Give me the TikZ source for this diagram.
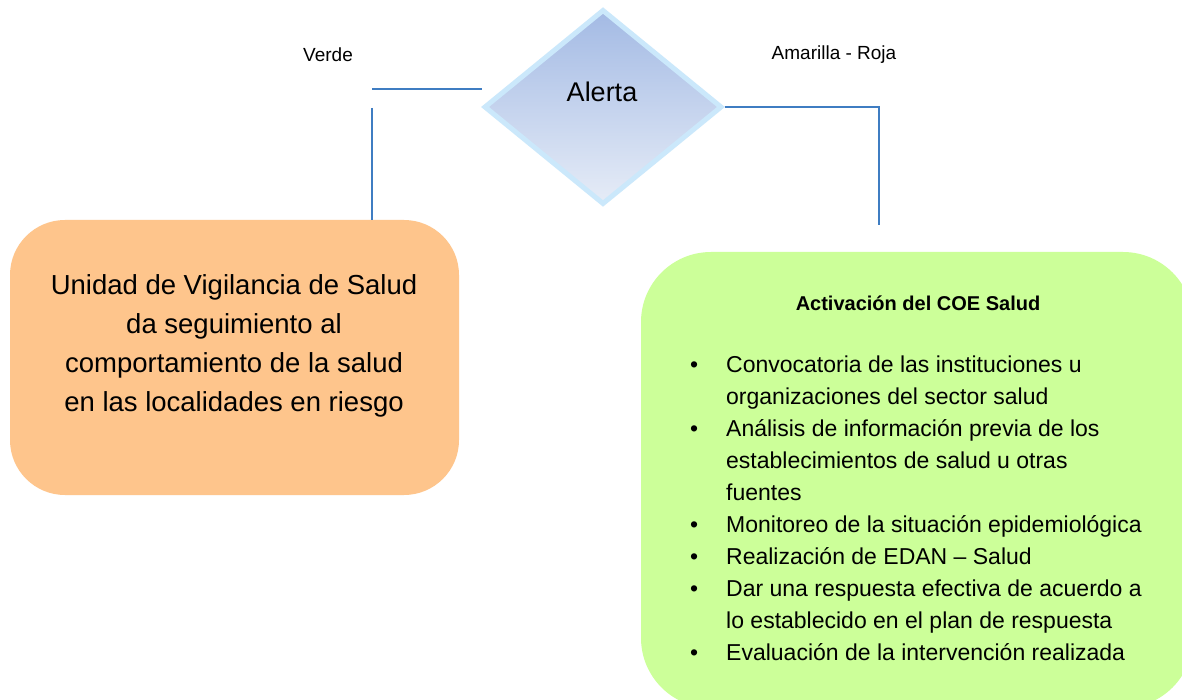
\documentclass[tikz,border=0pt]{standalone}
\usepackage{fontspec}
\setmainfont{Liberation Sans}
\usetikzlibrary{shapes.geometric}
\definecolor{linkblue}{HTML}{3F7DC2}
\definecolor{rimblue}{HTML}{CBE8FB}
\definecolor{topblue}{HTML}{A3BAE4}
\definecolor{botblue}{HTML}{E6ECF7}
\definecolor{boxorange}{HTML}{FEC58C}
\definecolor{boxgreen}{HTML}{CCFF99}
\tikzset{
  link/.style={draw=linkblue, line width=1.6pt},
  decision/.style={shape=diamond, draw=rimblue, line width=5pt, top color=topblue, bottom color=botblue,
    minimum width=238pt, minimum height=195pt, inner sep=0pt, aspect=1.22},
  softbox/.style={rounded corners=55pt, inner sep=0pt},
  lbl/.style={font=\fontsize{19}{22}\selectfont, inner sep=0pt},
}
\begin{document}
\begin{tikzpicture}[x=1pt,y=-1pt]
\useasboundingbox (0,0) rectangle (1182,700);
\clip (0,0) rectangle (1182,700);
\fill[white] (0,0) rectangle (1182,700);

% decision diamond
\node[decision] (alert) at (603,107) {};
\node[font=\fontsize{27}{30}\selectfont, inner sep=0pt] (alerttxt) at (602,92) {Alerta};

% branch labels
\node[lbl] (verde) at (328,55) {Verde};
\node[lbl] (amarilla) at (834,55) {Amarilla - Roja};

% left box
\node[softbox, fill=boxorange, minimum width=449pt, minimum height=275pt] (left) at (234.5,357.5) {};
\node[font=\fontsize{27.5}{39}\selectfont, align=center, inner sep=0pt] (lefttxt) at (234,346)
  {Unidad de Vigilancia de Salud\\da seguimiento al\\comportamiento de la salud\\en las localidades en riesgo};

% right box
\node[rounded corners=70pt, fill=boxgreen, minimum width=552pt, minimum height=456pt, inner sep=0pt] (right) at (917,480) {};
\node[font=\fontsize{20}{24}\selectfont\bfseries, inner sep=0pt] (title) at (918,303) {Activación del COE Salud};
\node[anchor=north west, inner sep=0pt, font=\fontsize{23}{32}\selectfont] (list) at (690,350)
{\begin{tabular}{@{}p{36pt}@{}p{460pt}@{}}
\textbullet & Convocatoria de las instituciones u\newline organizaciones del sector salud\\
\textbullet & Análisis de información previa de los\newline establecimientos de salud u otras\newline fuentes\\
\textbullet & Monitoreo de la situación epidemiológica\\
\textbullet & Realización de EDAN – Salud\\
\textbullet & Dar una respuesta efectiva de acuerdo a\newline lo establecido en el plan de respuesta\\
\textbullet & Evaluación de la intervención realizada
\end{tabular}};

% connectors
\coordinate (lgapA) at (372,89);
\coordinate (lgapB) at (372,108);
\coordinate (rend) at (879,225);
\draw[link] (alert.west |- lgapA) -- (lgapA);
\draw[link] (lgapB) -- (lgapB |- left.north);
\draw[link] (alert.east) -| (rend);
\end{tikzpicture}
\end{document}
